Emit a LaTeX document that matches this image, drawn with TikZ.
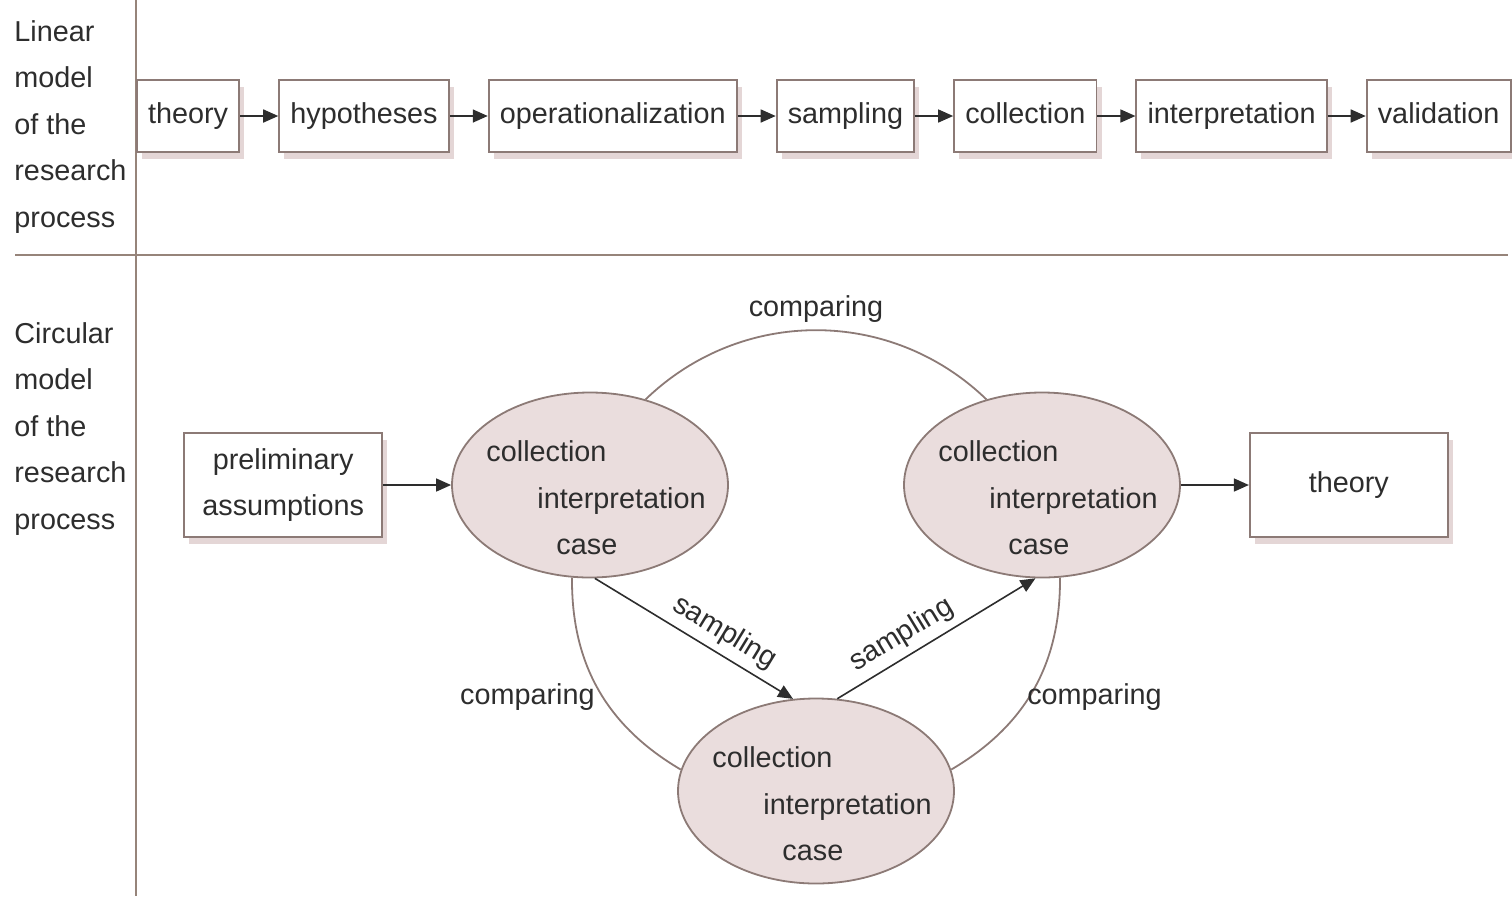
\documentclass[tikz,border=0pt]{standalone}
\usepackage{fontspec}
\setmainfont{Liberation Sans}
\usepackage{tikz}
\usetikzlibrary{shapes.geometric, arrows.meta, positioning, shadows}

\definecolor{rulebrown}{RGB}{150,132,122}
\definecolor{framegray}{RGB}{140,122,118}
\definecolor{shadepink}{RGB}{228,214,214}
\definecolor{rosefill}{RGB}{234,221,221}
\definecolor{inkgray}{RGB}{45,45,45}

\begin{document}
\begin{tikzpicture}[
            x=0.5pt, y=-0.5pt,
            font=\fontsize{14.4}{23.25}\selectfont, text=inkgray,
            node distance=1cm and 19pt,
            box/.style={rectangle, draw=framegray, line width=0.9pt, fill=white, drop shadow={shadow xshift=2.5pt, shadow yshift=-3.5pt, fill=shadepink, opacity=1}},
            stage/.style={box, minimum height=36pt, inner xsep=5.6pt, text height=10.5pt, text depth=3pt},
            result/.style={box, minimum width=99pt, minimum height=52pt, align=center},
            phase/.style={ellipse, minimum width=138pt, minimum height=92.5pt, draw=framegray, line width=0.9pt, fill=rosefill},
            phasetext/.style={align=left, inner sep=0pt},
            model/.style={align=left, anchor=north west, inner sep=0pt},
            arrow/.style={thick, ->, >={Triangle[length=7.5pt, width=6.5pt]}, draw=inkgray},
            link/.style={draw=framegray, line width=0.9pt}
            ]

            \useasboundingbox (0,0) rectangle (1512,896);
            \draw [rulebrown, line width=1pt] (136,0) -- (136,896);
            \draw [rulebrown, line width=1pt] (15,255) -- (1508,255);

            \node (linear) [model] at (14,20) {Linear\\model\\of the\\research\\process};
            \node (circular) [model] at (14,322) {Circular\\model\\of the\\research\\process};

            % linear model
            \node (theory) [stage, anchor=west] at (136,116) {theory};
            \node (hypo) [stage, right=of theory] {hypotheses};
            \node (oper) [stage, right=of hypo] {operationalization};
            \node (sampling) [stage, right=of oper] {sampling};
            \node (collect) [stage, right=of sampling] {collection};
            \node (interp) [stage, right=of collect] {interpretation};
            \node (valid) [stage, right=of interp] {validation};

            \draw [arrow] (theory) -- (hypo);
            \draw [arrow] (hypo) -- (oper);
            \draw [arrow] (oper) -- (sampling);
            \draw [arrow] (sampling) -- (collect);
            \draw [arrow] (collect) -- (interp);
            \draw [arrow] (interp) -- (valid);

            % circular model
            \node (first) [phase] at (590,485) {};
            \node (second) [phase] at (1042,485) {};
            \node (third) [phase] at (816,791) {};
            \node (prelim) [result, left=34pt of first] {preliminary\\assumptions};
            \node (final) [result, right=34pt of second] {theory};

            \node (firsttext) [phasetext] at ([shift={(6,13)}]first) {collection\\\hspace*{25.5pt}interpretation\\\hspace*{35pt}case};
            \node (secondtext) [phasetext] at ([shift={(6,13)}]second) {collection\\\hspace*{25.5pt}interpretation\\\hspace*{35pt}case};
            \node (thirdtext) [phasetext] at ([shift={(6,13)}]third) {collection\\\hspace*{25.5pt}interpretation\\\hspace*{35pt}case};

            \draw [link] (first.57) to[bend left=44] node[above] (cmptop) {comparing} (second.123);
            \draw [link] (first.259) to[bend right=30] node[left, xshift=2pt, yshift=-3.5pt] (cmpleft) {comparing} (third.171);
            \draw [link] (second.281) to[bend left=30] node[right, xshift=-7pt, yshift=-3.5pt] (cmpright) {comparing} (third.9);

            \draw [arrow] (first.273) -- node[pos=0.6, above, sloped] (smpdown) {sampling} (third.104);
            \draw [arrow] (third.77) -- node[pos=0.38, above, sloped] (smpup) {sampling} (second.266);
            \draw [arrow] (prelim) -- (first);
            \draw [arrow] (second) -- (final);
        \end{tikzpicture}
\end{document}
